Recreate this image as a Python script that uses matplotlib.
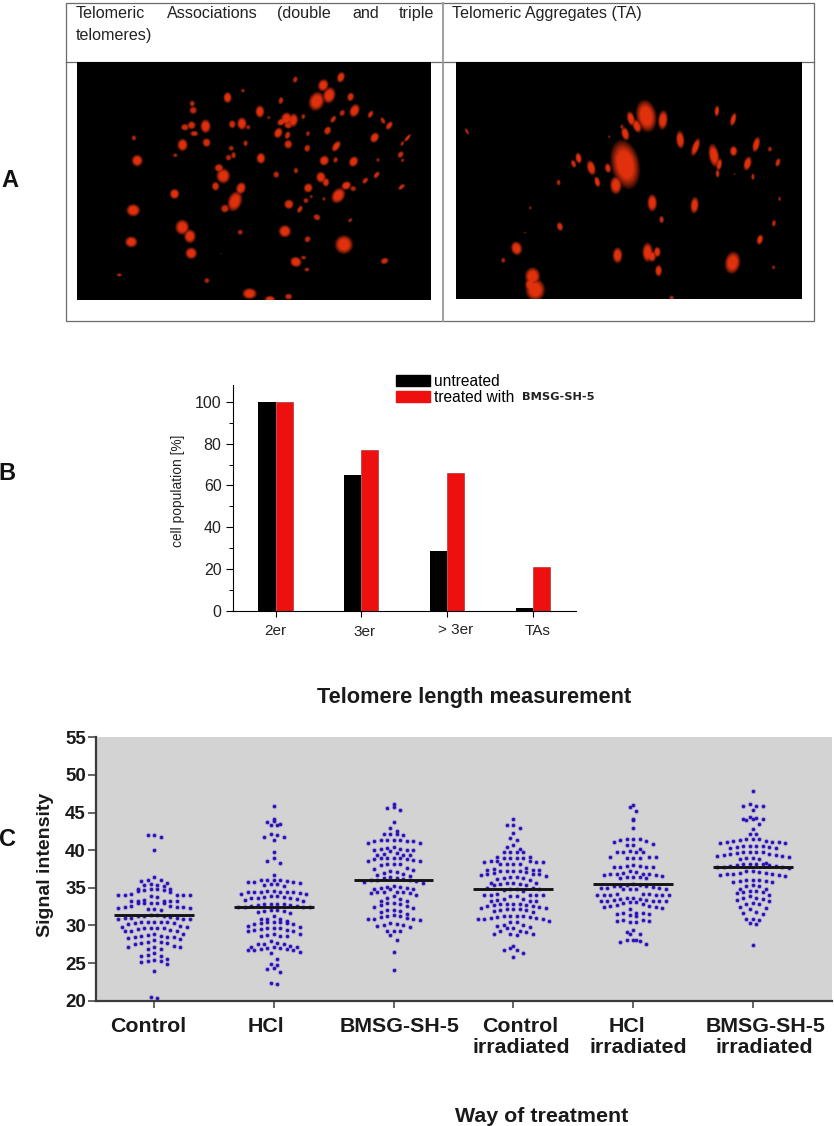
#!/usr/bin/env python3
"""Three panel telomere figure: microscopy images, bar chart, dot plot."""

import matplotlib

matplotlib.use("Agg")
import matplotlib.pyplot as plt
import numpy as np
from matplotlib.patches import Patch, Rectangle

W, H = 834, 1126

# panel B
BAR_CATS = ["2er", "3er", "> 3er", "TAs"]
UNTREATED = [100, 65, 28.5, 1.5]
TREATED = [100, 77, 66, 21]

# panel C
MEANS = [31.4, 32.5, 36.1, 34.8, 35.5, 37.8]
GROUP_TOP = ["Control", "HCl", "BMSG-SH-5", "Control", "HCl", "BMSG-SH-5"]
GROUP_BOTTOM = ["", "", "", "irradiated", "irradiated", "irradiated"]
CONTROL = [
    42.0, 42.0, 41.7, 40.0, 36.4, 36.0, 36.0, 35.9, 35.7, 35.5, 35.4, 35.4, 35.3,
    34.9, 34.9, 34.8, 34.8, 34.7, 34.7, 34.6, 34.5, 34.2, 34.1, 34.1, 34.0,
    34.0, 34.0, 33.9, 33.8, 33.4, 33.3, 33.3, 33.3, 33.3, 33.2, 33.0, 33.0,
    33.0, 33.0, 33.0, 32.6, 32.6, 32.5, 32.4, 32.4, 32.3, 32.3, 32.2, 32.2,
    32.1, 31.4, 31.4, 31.3, 31.3, 31.2, 31.1, 31.0, 31.0, 31.0, 30.9, 30.9,
    30.9, 30.5, 30.5, 30.4, 30.4, 30.4, 30.3, 30.3, 30.2, 29.9, 29.8, 29.8, 29.7,
    29.7, 29.6, 29.6, 29.5, 29.4, 29.3, 29.3, 29.2, 28.9, 28.8, 28.7, 28.6, 28.6,
    28.5, 28.4, 28.4, 28.3, 28.2, 28.0, 27.8, 27.8, 27.7, 27.7, 27.6, 27.3, 27.2,
    27.2, 27.1, 26.9, 26.9, 26.3, 26.1, 26.0, 25.9, 25.5, 25.4, 25.3, 25.3, 25.2,
    24.9, 24.0, 20.5, 20.4,
]
HCL = [
    45.9, 44.2, 43.9, 43.8, 43.5, 43.3, 43.3, 42.2, 42.0, 41.8, 41.8, 41.3, 39.8,
    38.9, 38.6, 38.3, 36.7, 36.0, 36.0, 36.0, 36.0, 35.9, 35.8, 35.8, 35.8, 35.7,
    35.5, 35.5, 35.4, 35.3, 34.6, 34.6, 34.5, 34.5, 34.5, 34.4, 34.4, 34.4, 34.3,
    34.2, 34.2, 33.9, 33.9, 33.8, 33.8, 33.7, 33.7, 33.6, 33.5, 33.4, 33.3, 32.9,
    32.9, 32.8, 32.8, 32.7, 32.7, 32.6, 32.6, 32.5, 32.5, 32.4,
    32.4, 32.1, 32.0, 31.9, 31.9, 31.8, 31.7, 31.2, 30.9, 30.8, 30.8, 30.6, 30.5,
    30.4, 30.4, 30.3, 30.3, 30.2, 30.2, 29.9, 29.8, 29.7, 29.7, 29.6, 29.5, 29.4,
    29.4, 29.3, 29.3, 28.9, 28.8, 28.7, 28.6, 28.6, 28.6, 27.9, 27.7, 27.6, 27.5,
    27.5, 27.3, 27.2, 27.2, 27.1, 27.0, 27.0, 26.9, 26.9, 26.8, 26.8, 26.7, 26.5,
    26.3, 25.5, 24.9, 24.7, 24.4, 24.2, 23.8, 22.3, 22.2,
]
BMSG = [
    46.2, 45.7, 45.6, 45.4, 43.8, 42.9, 42.6, 42.2, 42.1, 42.1, 42.0, 41.3, 41.3,
    41.3, 41.3, 41.2, 41.2, 41.2, 41.0, 40.9, 40.4, 40.3, 40.2, 40.1, 40.0, 40.0,
    40.0, 39.9, 39.6, 39.5, 39.4, 39.3, 39.3, 39.0, 39.0, 38.9, 38.9, 38.8, 38.8,
    38.7, 38.6, 38.5, 38.2, 38.1, 38.1, 38.0, 37.6, 37.5, 37.4, 37.2, 37.1, 37.0,
    36.9, 36.7, 36.6, 36.4, 36.3, 36.3, 36.2, 36.1, 36.0, 36.0, 35.9, 35.8, 35.7,
    35.2, 35.1, 35.1, 35.0, 35.0, 34.9, 34.9, 34.8, 34.5, 34.5, 34.4, 34.4, 34.3,
    34.3, 34.0, 33.9, 33.7, 33.5, 33.3, 33.2, 33.0, 33.0, 32.9, 32.7, 32.6, 32.5,
    32.3, 32.1, 32.1, 31.9, 31.8, 31.5, 31.4, 31.3, 31.2, 31.1, 31.0, 30.9, 30.8,
    30.8, 30.7, 30.3, 30.2, 30.1, 30.0, 29.9, 29.8, 29.3, 29.3, 29.2, 28.7, 28.1,
    26.5, 24.1,
]
CONTROL_IRR = [
    44.2, 43.3, 43.3, 43.0, 42.3, 41.6, 41.4, 40.7, 40.4, 40.2, 39.8, 39.8, 39.8,
    39.7, 39.1, 39.1, 39.0, 39.0, 39.0, 39.0, 38.5, 38.5, 38.5, 38.4, 38.4, 38.4,
    38.2, 38.1, 38.1, 38.1, 37.6, 37.5, 37.4, 37.4, 37.4, 37.3, 37.3, 37.2, 37.2,
    37.1, 37.0, 36.9, 36.8, 36.8, 36.7, 36.6, 36.5, 36.4, 36.3,
    36.3, 36.2, 36.1, 35.7, 35.7, 35.6, 35.6, 35.5, 35.5, 35.4, 35.4, 35.0, 35.0,
    34.9, 34.8, 34.8, 34.7, 34.6, 34.2, 34.1, 34.1, 34.1, 34.0, 34.0, 33.9, 33.9,
    33.5, 33.5, 33.4, 33.3, 33.3, 33.3, 32.9, 32.9, 32.8, 32.8, 32.7, 32.7, 32.6,
    32.6, 32.5, 32.3, 32.3, 32.2, 32.2, 32.2, 32.1, 32.1, 31.9, 31.8, 31.3, 31.3,
    31.2, 31.2, 31.1, 31.1, 31.0, 31.0, 30.9, 30.9, 30.8, 30.6,
    30.5, 30.5, 30.0, 30.0, 29.9, 29.8, 29.7, 29.7, 29.3, 29.2, 29.1, 28.9,
    28.9, 28.8, 28.7, 27.3, 27.0, 26.8, 26.7, 26.4, 25.8,
]
HCL_IRR = [
    46.0, 45.8, 45.2, 44.2, 44.0, 42.9, 41.5, 41.5, 41.5, 41.4, 41.2, 41.1, 40.8,
    40.7, 40.7, 40.2, 39.9, 39.8, 39.7, 39.7, 39.7, 39.1, 39.1, 39.1, 39.0, 39.0,
    39.0, 38.0, 37.9, 37.9, 37.8, 37.8, 37.7, 37.7, 37.2, 37.1, 37.0, 36.9, 36.9,
    36.8, 36.8, 36.7, 36.7, 36.6, 36.5, 36.5, 36.4, 36.3, 36.3, 35.5, 35.4, 35.4,
    35.3, 35.2, 35.2, 35.1, 35.0, 35.0, 35.0, 34.9, 34.8, 34.8, 34.8, 34.2, 34.2,
    34.2, 34.1, 34.1, 34.1, 34.0, 34.0, 34.0, 33.7, 33.6, 33.5, 33.5, 33.4, 33.4,
    33.3, 33.3, 33.3, 33.2, 33.2, 33.1, 33.1, 33.0, 32.8, 32.7, 32.6, 32.6, 32.5,
    32.4, 32.3, 32.2, 31.6, 31.6, 31.6, 31.5, 31.5, 31.4, 31.3, 30.7, 30.7, 30.6,
    30.6, 30.5, 30.4, 29.4, 29.1, 28.9, 28.8, 28.1, 28.0, 28.0, 27.9, 27.8, 27.6,
]
BMSG_IRR = [
    47.8, 46.2, 45.9, 45.9, 45.9, 45.3, 44.4, 44.3, 44.2, 44.2, 44.1, 44.0, 43.5,
    42.8, 42.2, 42.2, 41.5, 41.5, 41.5, 41.3, 41.2, 41.2, 41.1, 41.1, 41.1, 41.0,
    41.0, 40.6, 40.5, 40.5, 40.5, 40.4, 40.4, 40.3, 40.3, 39.8, 39.8, 39.7, 39.7,
    39.6, 39.5, 39.5, 39.4, 39.3, 39.2, 39.2, 39.1, 39.0, 38.9, 38.8, 38.8, 38.3,
    38.2, 38.2, 38.1, 38.1, 38.0, 38.0, 37.9, 37.9, 37.8, 37.7,
    37.7, 37.6, 37.3, 37.2, 37.1, 37.0, 37.0, 36.9, 36.8, 36.8, 36.7, 36.7,
    36.6, 36.1, 36.0, 36.0, 35.9, 35.9, 35.8, 35.8, 35.4, 35.3, 35.2, 34.9, 34.9,
    34.6, 34.6, 34.5, 34.4, 34.3, 34.1, 33.9, 33.7, 33.6, 33.5, 33.4, 33.3, 33.0,
    32.9, 32.8, 32.4, 32.3, 32.2, 31.8, 31.6, 31.5, 30.9, 30.8, 30.7, 30.3, 30.2,
    27.4,
]

# panel A: blobs as centre x, centre y, radius x, radius y, tilt, read at 3x zoom
BLOBS_LEFT = [
    (706, 238, 7, 10, 20), (843, 231, 11, 16, 20), (790, 255, 15, 18, 20), (808, 285, 18, 24, 15),
    (770, 303, 22, 28, 20), (872, 290, 10, 13, 15), (549, 271, 6, 6, 0), (503, 292, 12, 16, 0),
    (663, 301, 7, 11, 15), (397, 310, 8, 9, 0), (400, 330, 11, 11, 0), (600, 334, 13, 18, 0),
    (884, 331, 14, 20, 25), (847, 338, 8, 10, 30), (820, 357, 7, 12, 35), (932, 342, 7, 12, 30),
    (969, 361, 6, 11, -30), (988, 376, 8, 14, 35), (730, 349, 6, 8, 10), (627, 352, 5, 5, 0),
    (680, 355, 16, 18, 0), (700, 360, 14, 20, 10), (665, 365, 14, 10, -30), (685, 375, 12, 10, 0),
    (655, 398, 12, 16, 25), (683, 405, 8, 12, 20), (744, 400, 6, 8, 15), (803, 391, 10, 13, 25),
    (375, 381, 12, 10, 0), (395, 375, 12, 12, 0), (403, 400, 12, 8, 0), (437, 378, 15, 20, 0),
    (517, 372, 10, 12, 0), (546, 370, 14, 18, 0), (565, 381, 7, 7, 0), (222, 413, 7, 8, 0),
    (368, 434, 15, 18, 0), (440, 427, 12, 13, 0), (557, 429, 7, 9, 0), (685, 432, 12, 13, 0),
    (742, 444, 9, 11, 15), (829, 438, 10, 18, 35), (944, 412, 12, 16, 30), (1043, 413, 5, 14, 40),
    (1027, 430, 5, 8, 30), (1022, 463, 8, 11, 35), (1028, 480, 5, 6, 30), (954, 479, 5, 6, 0),
    (232, 481, 16, 17, 0), (346, 465, 7, 6, 0), (514, 444, 8, 8, 0), (506, 472, 9, 9, 0),
    (521, 465, 7, 10, 0), (603, 474, 13, 16, 0), (793, 481, 14, 15, 30), (827, 479, 7, 9, 15),
    (881, 484, 13, 16, 30), (477, 503, 13, 12, 0), (490, 527, 20, 22, 0), (467, 558, 11, 13, 0),
    (649, 523, 9, 10, 0), (708, 511, 7, 9, 0), (783, 531, 14, 16, 0), (798, 546, 10, 13, 0),
    (950, 524, 7, 12, 40), (916, 541, 7, 11, 40), (745, 563, 13, 14, 25), (859, 556, 15, 12, -30),
    (880, 565, 9, 8, 0), (835, 586, 18, 24, 35), (1025, 560, 6, 12, 50), (344, 581, 14, 15, 0),
    (543, 564, 14, 18, 20), (525, 603, 20, 30, 20), (495, 625, 12, 12, 0), (754, 589, 5, 5, 0),
    (738, 601, 8, 8, 20), (792, 596, 5, 6, 0), (687, 612, 14, 14, 30), (720, 627, 7, 12, 30),
    (771, 651, 11, 9, 30), (871, 660, 5, 8, 50), (220, 630, 20, 18, 0), (367, 681, 20, 22, 0),
    (390, 708, 17, 20, 0), (541, 696, 8, 8, 0), (675, 693, 18, 18, 20), (743, 717, 9, 10, 30),
    (852, 733, 26, 27, 0), (214, 725, 18, 16, 0), (394, 759, 17, 17, 0), (484, 760, 2, 2, 0),
    (708, 785, 17, 15, 20), (731, 772, 8, 6, 0), (741, 808, 8, 6, 0), (974, 782, 12, 9, -20),
    (178, 824, 8, 5, 0), (441, 841, 8, 8, 0), (569, 880, 21, 16, 0), (630, 897, 15, 10, 0),
    (686, 889, 11, 9, 0),
]
BLOBS_RIGHT = [
    (80, 396, 4, 11, -30), (830, 335, 7, 16, 5), (879, 360, 8, 20, 15), (618, 350, 29, 46, -10),
    (668, 362, 14, 28, 5), (572, 358, 11, 22, -15), (590, 380, 12, 20, -20), (545, 382, 5, 7, 0),
    (555, 403, 11, 20, -15), (507, 412, 3, 5, 0), (720, 421, 12, 26, -5), (766, 443, 10, 27, 20),
    (821, 468, 15, 34, -10), (837, 495, 8, 18, 10), (832, 522, 6, 12, 0), (880, 455, 11, 15, 0),
    (948, 435, 10, 23, 15), (989, 449, 6, 8, 10), (922, 492, 11, 21, 15), (938, 532, 5, 10, 0),
    (1013, 489, 7, 13, 15), (883, 524, 3, 3, 0), (415, 476, 9, 16, -10), (400, 493, 7, 12, -20),
    (453, 505, 12, 22, -15), (503, 506, 9, 14, -10), (471, 547, 8, 16, -15), (355, 549, 6, 9, 0),
    (555, 495, 40, 70, -12), (527, 557, 17, 26, 0), (636, 610, 14, 25, 0), (763, 617, 12, 24, 5),
    (270, 625, 4, 5, 0), (664, 660, 7, 11, 0), (1018, 598, 4, 7, 0), (1001, 671, 6, 10, 10),
    (359, 681, 9, 13, -15), (959, 720, 9, 15, 15), (254, 699, 3, 3, 0), (229, 746, 16, 20, -15),
    (189, 782, 6, 8, 0), (532, 767, 14, 23, 0), (622, 758, 15, 28, 0), (651, 757, 10, 15, 0),
    (635, 770, 12, 16, 0), (655, 813, 10, 17, 0), (877, 789, 22, 32, 10), (1000, 803, 5, 6, 0),
    (277, 830, 22, 26, 0), (285, 870, 28, 32, 0), (270, 855, 15, 20, 0), (694, 895, 7, 8, 0),
]

plt.rcParams["font.family"] = ["Liberation Sans", "DejaVu Sans"]


def px_axes(fig, x0, y0, x1, y1):
    # y0 is the top edge, all in image pixels from the top left
    return fig.add_axes([x0 / W, 1 - y1 / H, (x1 - x0) / W, (y1 - y0) / H])


def px_text(fig, x, y, s, **kw):
    kw.setdefault("va", "baseline")
    return fig.text(x / W, 1 - y / H, s, **kw)


def render_blobs(blobs, x0, x1, y0, y1, step=1.5):
    xs = np.arange(x0, x1, step)
    ys = np.arange(y0, y1, step)
    xx, yy = np.meshgrid(xs, ys)
    level = np.zeros_like(xx)
    for cx, cy, rx, ry, tilt in blobs:
        a = np.radians(tilt)
        dx, dy = xx - cx, yy - cy
        u = dx * np.cos(a) + dy * np.sin(a)
        v = dx * np.sin(a) - dy * np.cos(a)
        d2 = (u / rx) ** 2 + (v / ry) ** 2
        size = min(1.0, 0.5 + max(rx, ry) / 30)
        level = np.maximum(level, np.clip(1.05 * (1.25 - d2), 0, 1) * size)
    return np.dstack([0.88 * level, 0.19 * level, 0.05 * level])


def swarm_offsets(values, bin_size=0.85, dist=6.5):
    # bin the values into rows and spread each row out from the centre
    bins = np.floor(values / bin_size)
    out = np.zeros(len(values))
    for b in np.unique(bins):
        idx = np.where(bins == b)[0]
        idx = idx[np.argsort(-values[idx])]
        slots = (np.arange(len(idx)) - (len(idx) - 1) / 2) * dist
        slots = slots[np.argsort(np.abs(slots), kind="stable")]
        out[idx] = slots
    return out


def draw_table(fig):
    ax = fig.add_axes([0, 0, 1, 1], zorder=0)
    ax.set_xlim(0, W)
    ax.set_ylim(H, 0)
    ax.axis("off")
    line = "#6a6a6a"
    ax.add_patch(Rectangle((66, 2.5), 748, 318, fill=False, ec=line, lw=0.9))
    ax.plot([66, 814], [62, 62], color=line, lw=0.9)
    ax.plot([443, 443], [2.5, 320.5], color="#9a9a9a", lw=1.3)

    words = [("Telomeric", 76), ("Associations", 167), ("(double", 277), ("and", 352), ("triple", 399)]
    for word, x in words:
        px_text(fig, x, 18, word, fontsize=11.6, color="#222222")
    px_text(fig, 76, 40, "telomeres)", fontsize=11.6, color="#222222")
    px_text(fig, 452, 18, "Telomeric Aggregates (TA)", fontsize=11.6, color="#222222")

    left = px_axes(fig, 77.3, 62, 431, 300)
    left.imshow(render_blobs(BLOBS_LEFT, 52, 1113, 186, 900), aspect="auto", interpolation="bilinear")
    left.axis("off")
    right = px_axes(fig, 456, 62, 801.7, 299.5)
    right.imshow(render_blobs(BLOBS_RIGHT, 48, 1085, 186, 898), aspect="auto", interpolation="bilinear")
    right.axis("off")


def draw_bars(fig):
    ax = px_axes(fig, 232.7, 385, 576, 611)
    x = np.arange(len(BAR_CATS))
    width = 0.2
    ax.bar(x - width / 2, UNTREATED, width, color="black")
    ax.bar(x + width / 2, TREATED, width, color="#ee0f0f", edgecolor="#a02020", linewidth=0.4)
    ax.set_xlim(-0.5, 3.505)
    ax.set_ylim(0, 108)
    ax.set_xticks(x)
    ax.set_xticklabels([])
    ax.set_yticks(np.arange(0, 101, 20))
    ax.set_yticks(np.arange(10, 101, 20), minor=True)
    ax.spines[["top", "right"]].set_visible(False)
    ax.spines[["left", "bottom"]].set_linewidth(0.8)
    ax.tick_params(axis="y", which="major", length=5, width=0.8, labelsize=11.5, pad=3, labelcolor="#222222")
    ax.tick_params(axis="y", which="minor", length=3, width=0.7)
    ax.tick_params(axis="x", length=4, width=0.8)
    # these labels do not sit quite under their ticks in the original
    for cat, cx, cy in zip(BAR_CATS, [275.6, 364.8, 455.8, 538], [635, 636.5, 634, 635]):
        px_text(fig, cx, cy, cat, fontsize=11, ha="center", color="#222222")
    px_text(fig, 178, 491, "cell population [%]", rotation=90, fontsize=9.9,
            ha="center", va="center", color="#222222")

    handles = [Patch(color="black"), Patch(color="#ee0f0f")]
    ax.legend(handles, ["untreated", "treated with"], loc="upper left",
              bbox_to_anchor=((391.7 - 232.7) / 343.3, (611 - 369) / 226), frameon=False,
              fontsize=11.2, handlelength=2.14, handleheight=0.7, handletextpad=0.25,
              labelspacing=0.1, borderpad=0.3, borderaxespad=0)
    px_text(fig, 522, 400, "BMSG-SH-5", fontsize=8.2, fontweight="bold",
            family=["DejaVu Sans"], color="#222222")


def draw_swarm(fig):
    px_text(fig, 474.5, 703, "Telomere length measurement", fontsize=15.7, fontweight="bold",
            ha="center", color="#1a1a1a")
    ax = px_axes(fig, 95.7, 737.3, 832, 1000.7)
    ax.set_facecolor("#d3d3d3")
    x_px = 119.8
    groups = [CONTROL, HCL, BMSG, CONTROL_IRR, HCL_IRR, BMSG_IRR]
    for i, vals in enumerate(groups):
        vals = np.array(vals)
        xs = i + 1 + swarm_offsets(vals) / x_px
        ax.scatter(xs, vals, s=15, color="#6a5cc8", alpha=0.35, linewidths=0, zorder=2, clip_on=False)
        ax.scatter(xs, vals, s=6, color="#2a0cb8", linewidths=0, zorder=2, clip_on=False)
        ax.plot([i + 1 - 0.333, i + 1 + 0.333], [MEANS[i]] * 2, color="#141414", lw=2.1, zorder=3,
                solid_capstyle="butt")
    ax.set_xlim(0.513, 6.66)
    ax.set_ylim(20, 55)
    ax.set_xticks(range(1, 7))
    ax.set_xticklabels([])
    ax.set_yticks(np.arange(20, 56, 5))
    ax.set_yticklabels(np.arange(20, 56, 5), fontsize=13.5, fontweight="bold", color="#1a1a1a")
    ax.spines[["top", "right"]].set_visible(False)
    ax.spines[["left", "bottom"]].set_linewidth(1.6)
    ax.spines[["left", "bottom"]].set_color("#3a3a3a")
    ax.tick_params(axis="x", length=5, width=1.1, color="#3a3a3a")
    ax.tick_params(axis="y", length=6, width=1.1, pad=1, color="#3a3a3a")
    label_kw = dict(fontsize=15.4, fontweight="bold", ha="center", color="#1a1a1a")
    for s, cx in zip(GROUP_TOP, [148.5, 265.5, 399.7, 520, 627, 766]):
        px_text(fig, cx, 1031.7, s, **label_kw)
    for s, cx in zip(GROUP_BOTTOM, [0, 0, 0, 521, 638, 764]):
        if s:
            px_text(fig, cx, 1053, s, **label_kw)
    px_text(fig, 45, 865, "Signal intensity", rotation=90, fontsize=14, fontweight="bold",
            ha="center", va="center", color="#1a1a1a")
    px_text(fig, 542, 1121.7, "Way of treatment", fontsize=15.4, fontweight="bold", ha="center",
            color="#1a1a1a")


def main():
    fig = plt.figure(figsize=(W / 100, H / 100), dpi=100, facecolor="white")
    draw_table(fig)
    draw_bars(fig)
    draw_swarm(fig)
    for label, x, y in [("A", 10, 187), ("B", 7, 480), ("C", 8, 846)]:
        px_text(fig, x, y, label, fontsize=17, fontweight="bold", ha="center", color="#111111")
    fig.savefig("out.png", dpi=100)
    plt.close(fig)


if __name__ == "__main__":
    main()
